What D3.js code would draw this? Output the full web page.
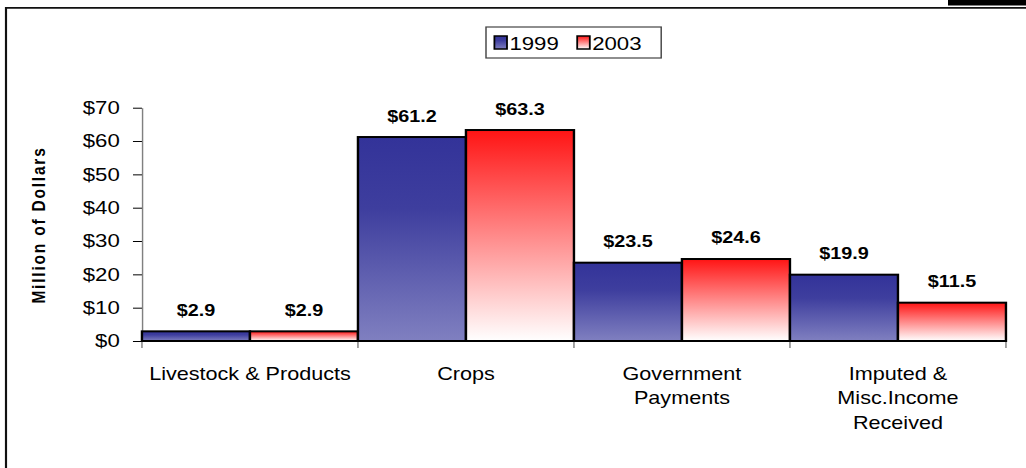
<!DOCTYPE html>
<html>
<head>
<meta charset="utf-8">
<script src="https://cdn.jsdelivr.net/npm/d3@7"></script>
<style>
  body { margin: 0; background: #fff; }
  text { font-family: Arial, "Liberation Sans", sans-serif; fill: #000; }
</style>
</head>
<body>
<div id="chart"></div>
<script>
// the original picture is stretched sideways, so we draw in a narrower box
// and let the svg stretch it back to 1026 wide
var width = 855;
var height = 468;

var categories = ["Livestock & Products", "Crops", "Government Payments", "Imputed & Misc.Income Received"];
var categoryLines = [["Livestock & Products"], ["Crops"], ["Government", "Payments"], ["Imputed &", "Misc.Income", "Received"]];
var years = ["1999", "2003"];
var values1999 = [2.9, 61.2, 23.5, 19.9];
var values2003 = [2.9, 63.3, 24.6, 11.5];
var yTicks = [0, 10, 20, 30, 40, 50, 60, 70];

var plot = {left: 118.3, right: 838.3, top: 107.7, bottom: 341};

var svg = d3.select("#chart").append("svg")
  .attr("width", 1026)
  .attr("height", height)
  .attr("viewBox", "0 0 " + width + " " + height)
  .attr("preserveAspectRatio", "none");

var defs = svg.append("defs");

var blue = defs.append("linearGradient").attr("id", "g1999")
  .attr("x1", 0).attr("y1", 0).attr("x2", 0).attr("y2", 1);
blue.append("stop").attr("offset", "0%").attr("stop-color", "#333399");
blue.append("stop").attr("offset", "35%").attr("stop-color", "#3e3e9e");
blue.append("stop").attr("offset", "100%").attr("stop-color", "#8080c0");

var red = defs.append("linearGradient").attr("id", "g2003")
  .attr("x1", 0).attr("y1", 0).attr("x2", 0).attr("y2", 1);
red.append("stop").attr("offset", "0%").attr("stop-color", "#ff1414");
red.append("stop").attr("offset", "100%").attr("stop-color", "#ffffff");

var fills = {"1999": "url(#g1999)", "2003": "url(#g2003)"};

// frame bits
svg.append("rect")
  .attr("x", 790).attr("y", 0)
  .attr("width", width - 790).attr("height", 5.5)
  .attr("fill", "#000");
svg.append("path")
  .attr("d", "M5,468V7.8H" + width)
  .attr("fill", "none")
  .attr("stroke", "#111")
  .attr("stroke-width", 1.8);

var x = d3.scaleBand()
  .domain(categories)
  .range([plot.left, plot.right])
  .padding(0);

var xs = d3.scaleBand()
  .domain(years)
  .range([0, x.bandwidth()])
  .padding(0);

var y = d3.scaleLinear()
  .domain([0, 70])
  .range([plot.bottom, plot.top]);

var data = categories.map(function(c, i) {
  return {cat: c, vals: [
    {year: "1999", value: values1999[i]},
    {year: "2003", value: values2003[i]}
  ]};
});

// y axis
var yAxis = svg.append("g")
  .attr("transform", "translate(" + plot.left + ",0)")
  .call(d3.axisLeft(y)
    .tickValues(yTicks)
    .tickFormat(function(d) { return "$" + d; })
    .tickSize(7.5)
    .tickSizeOuter(0)
    .tickPadding(11));
yAxis.select(".domain").attr("stroke", "#808080").attr("stroke-width", 1.2);
yAxis.selectAll(".tick line").attr("stroke", "#000").attr("stroke-width", 1);
yAxis.selectAll(".tick text")
  .attr("font-size", 18.5)
  .attr("fill", "#000");

// category boundary ticks
var bounds = [plot.left].concat(categories.map(function(c) { return x(c) + x.bandwidth(); }));
svg.selectAll(".xtick")
  .data(bounds)
  .enter().append("line")
    .attr("class", "xtick")
    .attr("x1", function(d) { return d; })
    .attr("x2", function(d) { return d; })
    .attr("y1", plot.bottom)
    .attr("y2", plot.bottom + 7)
    .attr("stroke", "#808080")
    .attr("stroke-width", 1.2);

svg.append("line")
  .attr("x1", plot.left).attr("x2", plot.right)
  .attr("y1", plot.bottom).attr("y2", plot.bottom)
  .attr("stroke", "#000")
  .attr("stroke-width", 1.5);

// bars
var groups = svg.selectAll(".group")
  .data(data)
  .enter().append("g")
    .attr("class", "group")
    .attr("transform", function(d) { return "translate(" + x(d.cat) + ",0)"; });

groups.selectAll("rect")
  .data(function(d) { return d.vals; })
  .enter().append("rect")
    .attr("x", function(d) { return xs(d.year); })
    .attr("y", function(d) { return y(d.value); })
    .attr("width", xs.bandwidth())
    .attr("height", function(d) { return y(0) - y(d.value); })
    .attr("fill", function(d) { return fills[d.year]; })
    .attr("stroke", "#000")
    .attr("stroke-width", 2);

groups.selectAll(".val")
  .data(function(d) { return d.vals; })
  .enter().append("text")
    .attr("class", "val")
    .attr("x", function(d) { return xs(d.year) + xs.bandwidth() / 2; })
    .attr("y", function(d) { return y(d.value) - 15.5; })
    .attr("text-anchor", "middle")
    .attr("font-size", 16.5)
    .attr("font-weight", "bold")
    .text(function(d) { return "$" + d.value.toFixed(1); });

// category labels
var catText = svg.selectAll(".cat")
  .data(categories)
  .enter().append("text")
    .attr("class", "cat")
    .attr("text-anchor", "middle")
    .attr("font-size", 18)
    .attr("transform", function(d) { return "translate(" + (x(d) + x.bandwidth() / 2) + ",380)"; });

catText.each(function(d, i) {
  var t = d3.select(this);
  categoryLines[i].forEach(function(line, j) {
    t.append("tspan")
      .attr("x", 0)
      .attr("y", j * 24.5)
      .text(line);
  });
});

// y title
svg.append("text")
  .attr("transform", "translate(37.5,225) rotate(-90)")
  .attr("text-anchor", "middle")
  .attr("font-size", 15.5)
  .attr("font-weight", "bold")
  .attr("letter-spacing", 1.8)
  .text("Million of Dollars");

// legend
var legend = svg.append("g").attr("transform", "translate(405,27)");
legend.append("rect")
  .attr("width", 146)
  .attr("height", 31)
  .attr("fill", "#fff")
  .attr("stroke", "#444")
  .attr("stroke-width", 1.2);

var item = legend.selectAll(".item")
  .data(years)
  .enter().append("g")
    .attr("class", "item")
    .attr("transform", function(d, i) { return "translate(" + (7 + i * 69) + ",0)"; });

item.append("rect")
  .attr("x", 0).attr("y", 9)
  .attr("width", 10.5).attr("height", 13)
  .attr("fill", function(d) { return fills[d]; })
  .attr("stroke", "#000")
  .attr("stroke-width", 1.5);

item.append("text")
  .attr("x", 12.5)
  .attr("y", 23.5)
  .attr("font-size", 18.5)
  .text(function(d) { return d; });
</script>
</body>
</html>
